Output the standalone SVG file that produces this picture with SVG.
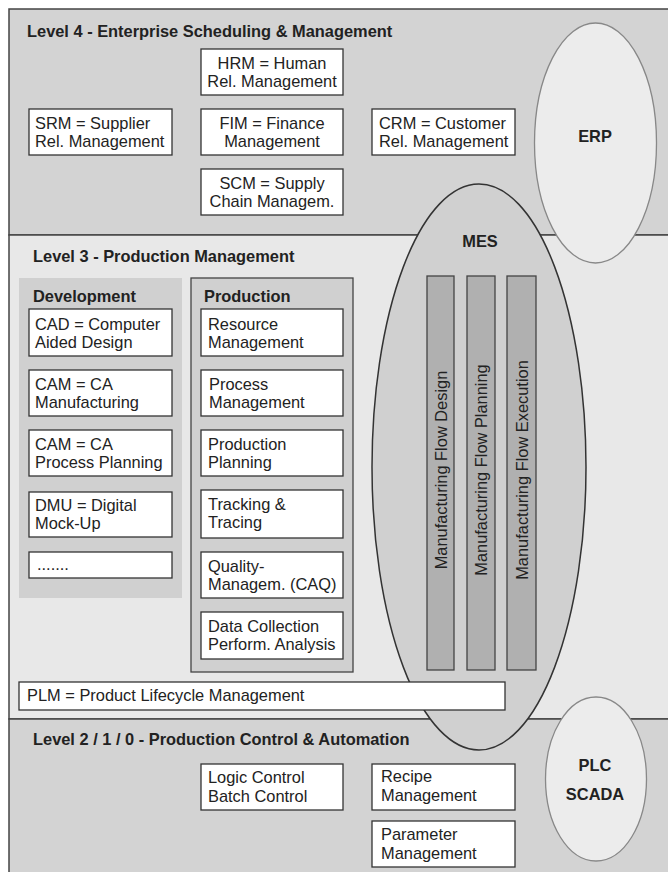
<svg xmlns="http://www.w3.org/2000/svg" width="668" height="872" viewBox="0 0 668 872">
<style>
text{font-family:"Liberation Sans",Arial,sans-serif;font-size:16.4px;fill:#222}
.b{font-weight:bold}
.c{text-anchor:middle}
.box{fill:#fff;stroke:#333;stroke-width:1.3}
.band{stroke:#444;stroke-width:1.5}
.bar{fill:#b0b0b0;stroke:#444;stroke-width:1.3}
</style>
<g id="level4">
<rect class="band" x="9" y="9" width="680" height="226" fill="#d3d3d3"/>
<text class="b" x="27" y="37">Level 4 - Enterprise Scheduling &amp; Management</text>
</g>
<g id="level3">
<rect class="band" x="9" y="235" width="680" height="484" fill="#e8e8e8"/>
<text class="b" x="33" y="262">Level 3 - Production Management</text>
</g>
<g id="level2">
<rect class="band" x="9" y="719" width="680" height="170" fill="#d3d3d3"/>
<text class="b" x="33" y="745">Level 2 / 1 / 0 - Production Control &amp; Automation</text>
</g>
<g id="erp">
<ellipse cx="595.5" cy="143" rx="61" ry="120" fill="#ececec" stroke="#888" stroke-width="1.3"/>
<text class="b c" x="595" y="142">ERP</text>
</g>
<g id="mes">
<ellipse cx="479" cy="467" rx="107" ry="283" fill="#d0d0d0" stroke="#333" stroke-width="1.5"/>
<text class="b c" x="480" y="247">MES</text>
</g>
<g id="mfd">
<rect class="bar" x="427" y="276" width="27" height="394"/>
<text class="c" x="446.5" y="470" transform="rotate(-90 446.5 470)">Manufacturing Flow Design</text>
</g>
<g id="mfp">
<rect class="bar" x="467" y="276" width="28" height="394"/>
<text class="c" x="487" y="470" transform="rotate(-90 487 470)">Manufacturing Flow Planning</text>
</g>
<g id="mfe">
<rect class="bar" x="507" y="276" width="29" height="394"/>
<text class="c" x="528" y="470" transform="rotate(-90 528 470)">Manufacturing Flow Execution</text>
</g>
<g id="plc">
<ellipse cx="596" cy="779" rx="50.5" ry="82" fill="#ececec" stroke="#888" stroke-width="1.3"/>
<text class="b c" x="595" y="771">PLC</text>
<text class="b c" x="595" y="800">SCADA</text>
</g>
<g id="hrm">
<rect class="box" x="201" y="49" width="142" height="46"/>
<text class="c" x="272" y="69">HRM = Human</text>
<text class="c" x="272" y="87">Rel. Management</text>
</g>
<g id="srm">
<rect class="box" x="29" y="109" width="143" height="46"/>
<text x="35" y="129">SRM = Supplier</text>
<text x="35" y="147">Rel. Management</text>
</g>
<g id="fim">
<rect class="box" x="201" y="109" width="142" height="46"/>
<text class="c" x="272" y="129">FIM = Finance</text>
<text class="c" x="272" y="147">Management</text>
</g>
<g id="crm">
<rect class="box" x="372" y="109" width="143" height="46"/>
<text x="379" y="129">CRM = Customer</text>
<text x="379" y="147">Rel. Management</text>
</g>
<g id="scm">
<rect class="box" x="201" y="169" width="142" height="46"/>
<text class="c" x="272" y="189">SCM = Supply</text>
<text class="c" x="272" y="207">Chain Managem.</text>
</g>
<g id="development">
<rect x="19" y="278" width="163" height="320" fill="#d0d0d0"/>
<text class="b" x="33" y="302">Development</text>
</g>
<g id="cad">
<rect class="box" x="29" y="309" width="143" height="47"/>
<text x="35" y="330">CAD = Computer</text>
<text x="35" y="348">Aided Design</text>
</g>
<g id="cam1">
<rect class="box" x="29" y="370" width="143" height="46"/>
<text x="35" y="390">CAM = CA</text>
<text x="35" y="408">Manufacturing</text>
</g>
<g id="cam2">
<rect class="box" x="29" y="430" width="143" height="46"/>
<text x="35" y="450">CAM = CA</text>
<text x="35" y="468">Process Planning</text>
</g>
<g id="dmu">
<rect class="box" x="29" y="492" width="143" height="45"/>
<text x="35" y="511">DMU = Digital</text>
<text x="35" y="529">Mock-Up</text>
</g>
<g id="more">
<rect class="box" x="29" y="552" width="143" height="26"/>
<text x="37" y="570">.......</text>
</g>
<g id="production">
<rect x="191" y="278" width="162" height="394" fill="#d0d0d0" stroke="#444" stroke-width="1.3"/>
<text class="b" x="204" y="302">Production</text>
</g>
<g id="resource">
<rect class="box" x="201" y="309" width="142" height="47"/>
<text x="208" y="330">Resource</text>
<text x="208" y="348">Management</text>
</g>
<g id="process">
<rect class="box" x="201" y="370" width="142" height="46"/>
<text x="209" y="390">Process</text>
<text x="209" y="408">Management</text>
</g>
<g id="prodplan">
<rect class="box" x="201" y="430" width="142" height="46"/>
<text x="208" y="450">Production</text>
<text x="208" y="468">Planning</text>
</g>
<g id="tracking">
<rect class="box" x="201" y="490" width="142" height="48"/>
<text x="208" y="510">Tracking &amp;</text>
<text x="208" y="528">Tracing</text>
</g>
<g id="quality">
<rect class="box" x="201" y="552" width="142" height="46"/>
<text x="208" y="572">Quality-</text>
<text x="208" y="590">Managem. (CAQ)</text>
</g>
<g id="datacollection">
<rect class="box" x="201" y="612" width="142" height="47"/>
<text x="208" y="632">Data Collection</text>
<text x="208" y="650">Perform. Analysis</text>
</g>
<g id="plm">
<rect class="box" x="19" y="682" width="486" height="28"/>
<text x="27" y="701">PLM = Product Lifecycle Management</text>
</g>
<g id="logic">
<rect class="box" x="201" y="764" width="142" height="46"/>
<text x="208" y="783">Logic Control</text>
<text x="208" y="802">Batch Control</text>
</g>
<g id="recipe">
<rect class="box" x="372" y="764" width="143" height="46"/>
<text x="381" y="782">Recipe</text>
<text x="381" y="801">Management</text>
</g>
<g id="parameter">
<rect class="box" x="372" y="821" width="143" height="46"/>
<text x="381" y="840">Parameter</text>
<text x="381" y="859">Management</text>
</g>
<g id="connectors"></g>
</svg>
